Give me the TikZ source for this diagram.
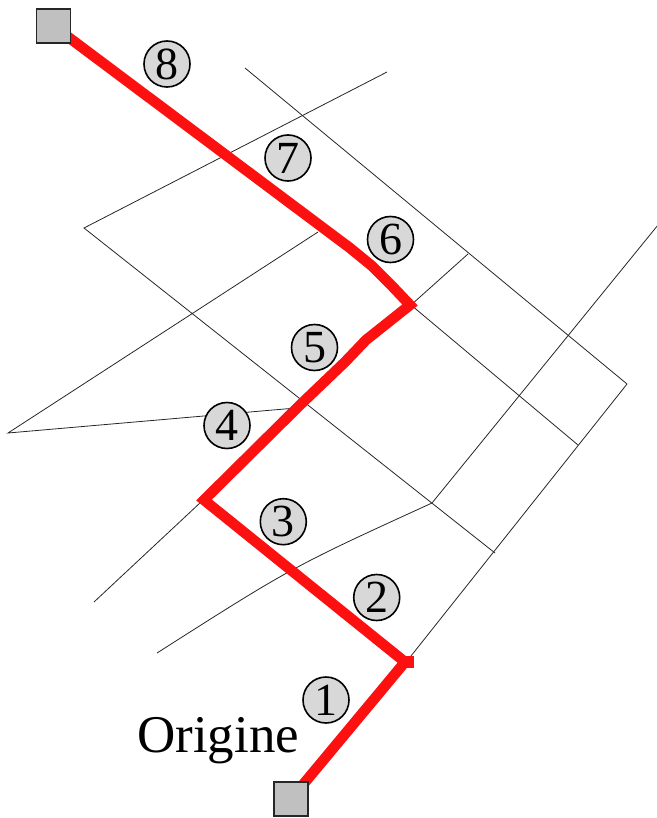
\documentclass[tikz,border=0pt]{standalone}
\usepackage{fontspec}
\setmainfont{Liberation Serif}
\definecolor{pathred}{RGB}{252,16,16}
\definecolor{boxgray}{RGB}{192,192,192}
\definecolor{circgray}{RGB}{216,216,216}
\tikzset{
  thinline/.style={line width=0.8pt, black!85},
  redpath/.style={line width=10.5pt, pathred, line join=miter, line cap=butt},
  endbox/.style={draw=black!85, line width=1.5pt, fill=boxgray, minimum size=34pt, inner sep=0pt},
  numlabel/.style={circle, draw=black, line width=1.6pt, fill=circgray, minimum size=46pt, inner sep=0pt, font=\fontsize{46}{46}\selectfont},
  origlabel/.style={font=\fontsize{53}{53}\selectfont, inner sep=0pt, anchor=base west}
}
\begin{document}
\begin{tikzpicture}[x=1pt,y=-1pt]
\useasboundingbox (0,0) rectangle (656,818);
% thin network lines
\coordinate (a1) at (245,68);
\coordinate (a2) at (627,384);
\coordinate (b1) at (84,228);
\coordinate (b2) at (387,72);
\coordinate (c2) at (495,553);
\coordinate (d1) at (318,232);
\coordinate (d2) at (8,433);
\coordinate (e2) at (296,408);
\coordinate (f1) at (411,305);
\coordinate (f2) at (468,254);
\coordinate (g2) at (578,445);
\coordinate (h2) at (407,661);
\coordinate (k1) at (658,225);
\coordinate (k2) at (432,503);
\coordinate (k3) at (157,653);
\coordinate (m1) at (201,502);
\coordinate (m2) at (94,602);
\draw[thinline] (a1) -- (a2);
\draw[thinline] (b2) -- (b1) -- (c2);
\draw[thinline] (d1) -- (d2) -- (e2);
\draw[thinline] (f2) -- (f1) -- (g2);
\draw[thinline] (a2) -- (h2);
\draw[thinline] (k1) -- (k2) .. controls (292,567) .. (k3);
\draw[thinline] (m1) -- (m2);
% end box anchors
\coordinate (startc) at (53.5,26);
\coordinate (origc) at (291,799);
% red route
\coordinate (r1) at (350,248);
\coordinate (r2) at (372,266);
\coordinate (r3) at (392,286);
\coordinate (r4) at (410,305);
\coordinate (r5) at (366,340);
\coordinate (r6) at (345,362);
\coordinate (r7) at (300,405);
\coordinate (r8) at (204,500);
\coordinate (r9) at (405,662);
\draw[redpath] (startc) -- (r1) -- (r2) -- (r3) -- (r4) -- (r5) -- (r6) -- (r7) -- (r8) -- (r9) -- (origc);
\fill[pathred] (r9) ++(1,-6) rectangle ++(8,12);
\node[endbox] (start) at (startc) {};
\node[endbox] (orig) at (origc) {};
% numbered labels
\node[numlabel] (n8) at (167,64) {8};
\node[numlabel] (n7) at (288,158) {7};
\node[numlabel] (n6) at (390.5,239.5) {6};
\node[numlabel] (n5) at (314.5,347.5) {5};
\node[numlabel] (n4) at (227,425.5) {4};
\node[numlabel] (n3) at (283.3,521.7) {3};
\node[numlabel] (n2) at (376.7,597.5) {2};
\node[numlabel] (n1) at (326,700) {1};
\node[origlabel] (ot) at (137,752) {Origine};
\end{tikzpicture}
\end{document}
